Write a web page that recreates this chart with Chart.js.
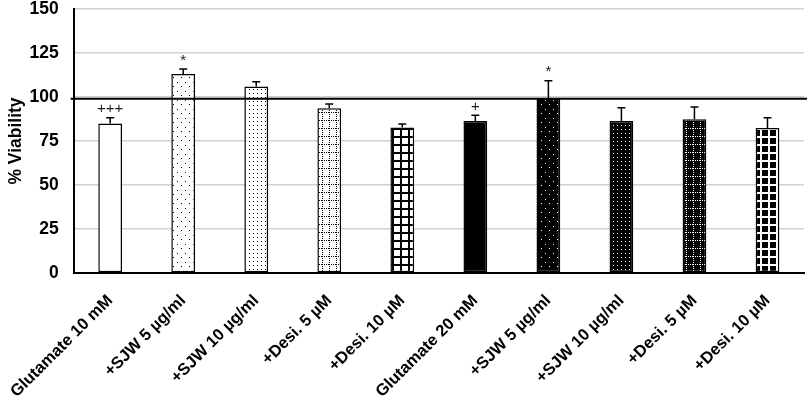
<!DOCTYPE html>
<html>
<head>
<meta charset="utf-8">
<script src="https://cdn.jsdelivr.net/npm/chart.js@4.4.1/dist/chart.umd.min.js"></script>
<style>
  html, body { margin: 0; padding: 0; background: #fff; }
  #wrap { width: 809px; height: 399px; position: relative; }
</style>
</head>
<body>
<div id="wrap"><canvas id="c" width="809" height="399"></canvas></div>
<script>
const categories = ["Glutamate 10 mM", "+SJW 5 µg/ml", "+SJW 10 µg/ml", "+Desi. 5 µM", "+Desi. 10 µM",
                    "Glutamate 20 mM", "+SJW 5 µg/ml", "+SJW 10 µg/ml", "+Desi. 5 µM", "+Desi. 10 µM"];
const viability = [85, 113, 106, 93.6, 82.6, 86.4, 99.2, 86.4, 87.3, 82.4];
const errorUp = [3.2, 2.9, 2.6, 2.4, 2.1, 3.2, 10.1, 7.5, 7.0, 5.8];
const marks = ["+++", "*", "", "", "", "+", "*", "", "", ""];
const patterns = ["white", "dotsSparse", "dotsDense", "dottedGrid", "grid",
                  "black", "dotsSparseInv", "dotsDenseInv", "dottedGridInv", "gridInv"];
const yTicks = [0, 25, 50, 75, 100, 125, 150];
const controlLevel = 99;
const yTitle = "% Viability";

function makePattern(type) {
  const inv = type.endsWith("Inv") || type === "black";
  const base = type.replace("Inv", "");
  const bg = inv ? "#000" : "#fff";
  const fg = inv ? "#fff" : "#000";
  if (base === "white" || base === "black") return bg;
  const c = document.createElement("canvas");
  let w = 8, h = 9;
  if (base === "dotsDense") { w = 4; h = 4; }
  if (base === "dottedGrid") { w = 7; h = 8; }
  if (base === "grid") { w = 8; h = 8; }
  c.width = w; c.height = h;
  const g = c.getContext("2d");
  g.fillStyle = bg; g.fillRect(0, 0, w, h);
  g.fillStyle = fg;
  if (base === "dotsSparse") {
    g.fillRect(1, 1, 1, 1); g.fillRect(5, 5, 1, 1);
  } else if (base === "dotsDense") {
    g.fillRect(1, 1, 1, 1);
  } else if (base === "dottedGrid") {
    for (let i = 0; i < w; i += 2) g.fillRect(i, 0, 1, 1);
    for (let j = 0; j < h; j += 2) g.fillRect(0, j, 1, 1);
  } else if (base === "grid") {
    g.fillRect(0, 0, w, 2); g.fillRect(0, 0, 2, h);
  }
  return g.createPattern(c, "repeat");
}

const fills = patterns.map(makePattern);

const overlay = {
  id: "overlay",
  afterDatasetsDraw(chart) {
    const ctx = chart.ctx;
    const y = chart.scales.y;
    const meta = chart.getDatasetMeta(0);
    ctx.save();
    const cy = y.getPixelForValue(controlLevel);
    ctx.strokeStyle = "#000"; ctx.lineWidth = 2;
    ctx.beginPath(); ctx.moveTo(chart.chartArea.left - 3, cy); ctx.lineTo(chart.chartArea.right + 3, cy); ctx.stroke();
    ctx.lineWidth = 1.5;
    meta.data.forEach((bar, i) => {
      const top = y.getPixelForValue(viability[i]);
      const et = y.getPixelForValue(viability[i] + errorUp[i]);
      ctx.strokeStyle = "#000";
      ctx.beginPath();
      ctx.moveTo(bar.x, top); ctx.lineTo(bar.x, et);
      ctx.moveTo(bar.x - 4, et); ctx.lineTo(bar.x + 4, et);
      ctx.stroke();
      if (marks[i]) {
        ctx.fillStyle = "#222";
        ctx.font = "15px 'Liberation Sans', Arial, sans-serif";
        ctx.textAlign = "center";
        ctx.textBaseline = "bottom";
        ctx.fillText(marks[i], bar.x, et - 1);
      }
    });
    ctx.restore();
  }
};

new Chart(document.getElementById("c"), {
  type: "bar",
  data: {
    labels: categories,
    datasets: [{
      data: viability,
      backgroundColor: fills,
      borderColor: "#000",
      borderWidth: 1.5,
      borderSkipped: false,
      barPercentage: 0.325,
      categoryPercentage: 1.0
    }]
  },
  options: {
    responsive: false,
    animation: false,
    devicePixelRatio: 1,
    layout: { padding: { top: 0, right: 5, left: 0, bottom: 0 } },
    plugins: { legend: { display: false }, tooltip: { enabled: false } },
    scales: {
      x: {
        grid: { display: false },
        border: { display: true, color: "#000", width: 2 },
        ticks: {
          color: "#000",
          font: { family: "'Liberation Sans', Arial, sans-serif", size: 16.5, weight: "bold" },
          maxRotation: 45, minRotation: 45, padding: 10
        },
        afterFit(s) { s.height = 126; }
      },
      y: {
        min: 0, max: 150,
        afterBuildTicks(s) { s.ticks = yTicks.map(v => ({ value: v })); },
        grid: { color: "#d0d0d0", lineWidth: 1.5, drawTicks: false },
        border: { display: true, color: "#000", width: 2 },
        ticks: {
          color: "#000",
          font: { family: "'Liberation Sans', Arial, sans-serif", size: 17.5, weight: "bold" },
          padding: 15
        },
        title: {
          display: true, text: yTitle, color: "#000",
          font: { family: "'Liberation Sans', Arial, sans-serif", size: 17.5, weight: "bold" },
          padding: { top: 3, bottom: 0 }
        },
        afterFit(s) { s.width = 71; s.paddingTop = 9; s.paddingBottom = 0; }
      }
    }
  },
  plugins: [overlay]
});
</script>
</body>
</html>
